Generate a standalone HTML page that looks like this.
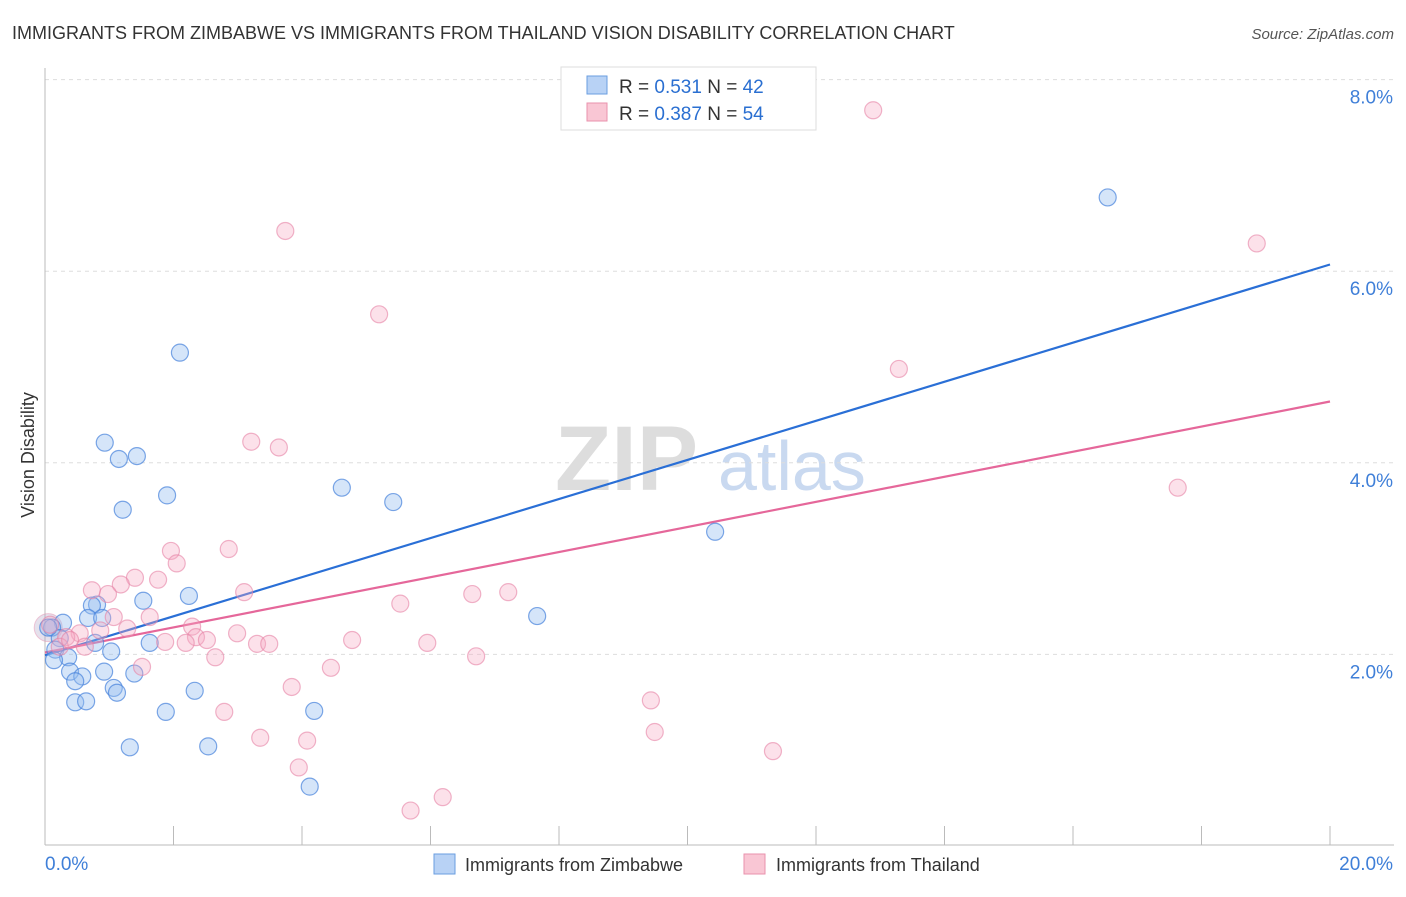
<!DOCTYPE html>
<html><head><meta charset="utf-8"><style>
body{margin:0;background:#fff;font-family:"Liberation Sans",sans-serif;}
svg text{font-family:"Liberation Sans",sans-serif;}
</style></head><body>
<svg id="chart" width="1406" height="892" xmlns="http://www.w3.org/2000/svg">
<text x="12" y="39" font-size="18" fill="#333">IMMIGRANTS FROM ZIMBABWE VS IMMIGRANTS FROM THAILAND VISION DISABILITY CORRELATION CHART</text>
<text x="1394" y="39" font-size="15" fill="#555" text-anchor="end" font-style="italic">Source: ZipAtlas.com</text>
<text x="555" y="490" font-size="92" fill="#ddd" font-family="Liberation Serif" font-weight="bold">ZIP</text>
<text x="718" y="490" font-size="70" fill="#c9d9f0">atlas</text>
<text transform="translate(34,455) rotate(-90)" font-size="18" fill="#333" text-anchor="middle">Vision Disability</text>
<g id="grid"></g>
<g id="axes"></g>
<g id="lines"></g>
<g id="pts"></g>
<g>
<rect x="561" y="67" width="255" height="63" fill="#fff" stroke="#ddd"/>
<rect x="587" y="76" width="20" height="18" fill="#b8d2f5" stroke="#6a9ee0"/>
<rect x="587" y="103" width="20" height="18" fill="#f9c6d4" stroke="#e992ad"/>
<text x="619" y="93" font-size="19" fill="#333">R = <tspan fill="#2a6fd1">0.531</tspan>   N = <tspan fill="#2a6fd1">42</tspan></text>
<text x="619" y="120" font-size="19" fill="#333">R = <tspan fill="#2a6fd1">0.387</tspan>   N = <tspan fill="#2a6fd1">54</tspan></text>
</g>
<g>
<rect x="434" y="854" width="21" height="20" fill="#b8d2f5" stroke="#6a9ee0"/>
<text x="465" y="871" font-size="18" fill="#333">Immigrants from Zimbabwe</text>
<rect x="744" y="854" width="21" height="20" fill="#f9c6d4" stroke="#e992ad"/>
<text x="776" y="871" font-size="18" fill="#333">Immigrants from Thailand</text>
</g>
</svg>
<script>
const blueX=[2.10,16.54,0.93,1.15,1.43,1.90,1.21,4.62,5.42,10.43,7.66,2.24,1.53,0.81,0.73,0.67,0.89,0.28,0.11,0.23,0.78,1.63,0.16,0.36,1.03,0.14,0.39,0.92,1.39,0.58,0.47,1.07,1.12,2.33,0.47,0.64,1.88,4.19,1.32,2.54,4.12,0.05];
const blueY=[5.15,6.77,4.21,4.04,4.07,3.66,3.51,3.74,3.59,3.28,2.40,2.61,2.56,2.52,2.51,2.38,2.38,2.33,2.28,2.17,2.12,2.12,2.05,1.97,2.03,1.94,1.82,1.82,1.80,1.77,1.72,1.65,1.60,1.62,1.50,1.51,1.40,1.41,1.03,1.04,0.62,2.28];
const pinkX=[12.89,3.74,18.86,5.20,13.29,3.21,3.64,17.63,1.96,2.86,2.05,1.40,1.76,1.18,0.73,0.98,3.10,6.65,7.21,5.53,1.07,1.63,2.29,1.28,0.54,2.99,2.35,0.33,2.52,4.78,1.87,2.19,3.30,3.49,5.95,0.62,0.23,6.71,2.65,1.51,4.45,3.84,9.43,2.79,9.49,3.35,4.08,11.33,3.95,6.19,5.69,0.08,0.39,0.86];
const pinkY=[7.68,6.42,6.29,5.55,4.98,4.22,4.16,3.74,3.08,3.10,2.95,2.80,2.78,2.73,2.67,2.63,2.65,2.63,2.65,2.53,2.39,2.39,2.29,2.27,2.22,2.22,2.18,2.18,2.15,2.15,2.13,2.12,2.11,2.11,2.12,2.08,2.08,1.98,1.97,1.87,1.86,1.66,1.52,1.40,1.19,1.13,1.10,0.99,0.82,0.51,0.37,2.31,2.15,2.25];
const blueTrend=[1.99,6.07];
const pinkTrend=[2.02,4.64];
const yTicks=[2,4,6,8];
const yTickLabels=["2.0%","4.0%","6.0%","8.0%"];
const xTickCount=10;
const NS="http://www.w3.org/2000/svg";
const X=v=>45+v/20*1285;
const Y=v=>846-v*95.8;
function mk(t,a,p){const e=document.createElementNS(NS,t);for(const k in a)e.setAttribute(k,a[k]);p.appendChild(e);return e;}
const grid=document.getElementById('grid'),axes=document.getElementById('axes'),lines=document.getElementById('lines'),pts=document.getElementById('pts');
yTicks.forEach((t,i)=>{
 const l=mk('line',{x1:45,x2:1394,y1:Y(t),y2:Y(t),stroke:'#ddd','stroke-dasharray':'4,4'},grid);
 
 
 const tx=mk('text',{x:1393,y:Y(t)+24,'font-size':19,fill:'#3f7fd8','text-anchor':'end'},axes);
 tx.textContent=yTickLabels[i];
 
 
});
const ax=mk('line',{x1:45,x2:1394,y1:845,y2:845,stroke:'#bbb'},axes);


const ay=mk('line',{x1:45,x2:45,y1:68,y2:845,stroke:'#bbb'},axes);


for(let i=1;i<=xTickCount;i++){const tk=mk('line',{x1:X(i*2),x2:X(i*2),y1:826,y2:845,stroke:'#bbb'},axes);
 
 }
const x0=mk('text',{x:45,y:870,'font-size':19,fill:'#3f7fd8'},axes);x0.textContent='0.0%';


const x1=mk('text',{x:1393,y:870,'font-size':19,fill:'#3f7fd8','text-anchor':'end'},axes);x1.textContent='20.0%';


// large cluster circles
const big1=mk('circle',{cx:X(0.05),cy:Y(2.28),r:14,fill:'rgba(180,170,200,0.35)',stroke:'rgba(230,150,180,0.5)'},pts);


blueX.forEach((v,i)=>{const c=mk('circle',{cx:X(v),cy:Y(blueY[i]),r:8.5,fill:'rgba(150,190,240,0.4)',stroke:'rgba(70,130,220,0.7)','stroke-width':1.2},pts);
 
 });
pinkX.forEach((v,i)=>{const c=mk('circle',{cx:X(v),cy:Y(pinkY[i]),r:8.5,fill:'rgba(245,170,195,0.35)',stroke:'rgba(230,130,165,0.6)','stroke-width':1.2},pts);
 
 });
const bl=mk('line',{x1:X(0),y1:Y(blueTrend[0]),x2:X(20),y2:Y(blueTrend[1]),stroke:'#2a6fd6','stroke-width':2.2},lines);


const pl=mk('line',{x1:X(0),y1:Y(pinkTrend[0]),x2:X(20),y2:Y(pinkTrend[1]),stroke:'#e5679a','stroke-width':2.2},lines);


</script>
</body></html>
